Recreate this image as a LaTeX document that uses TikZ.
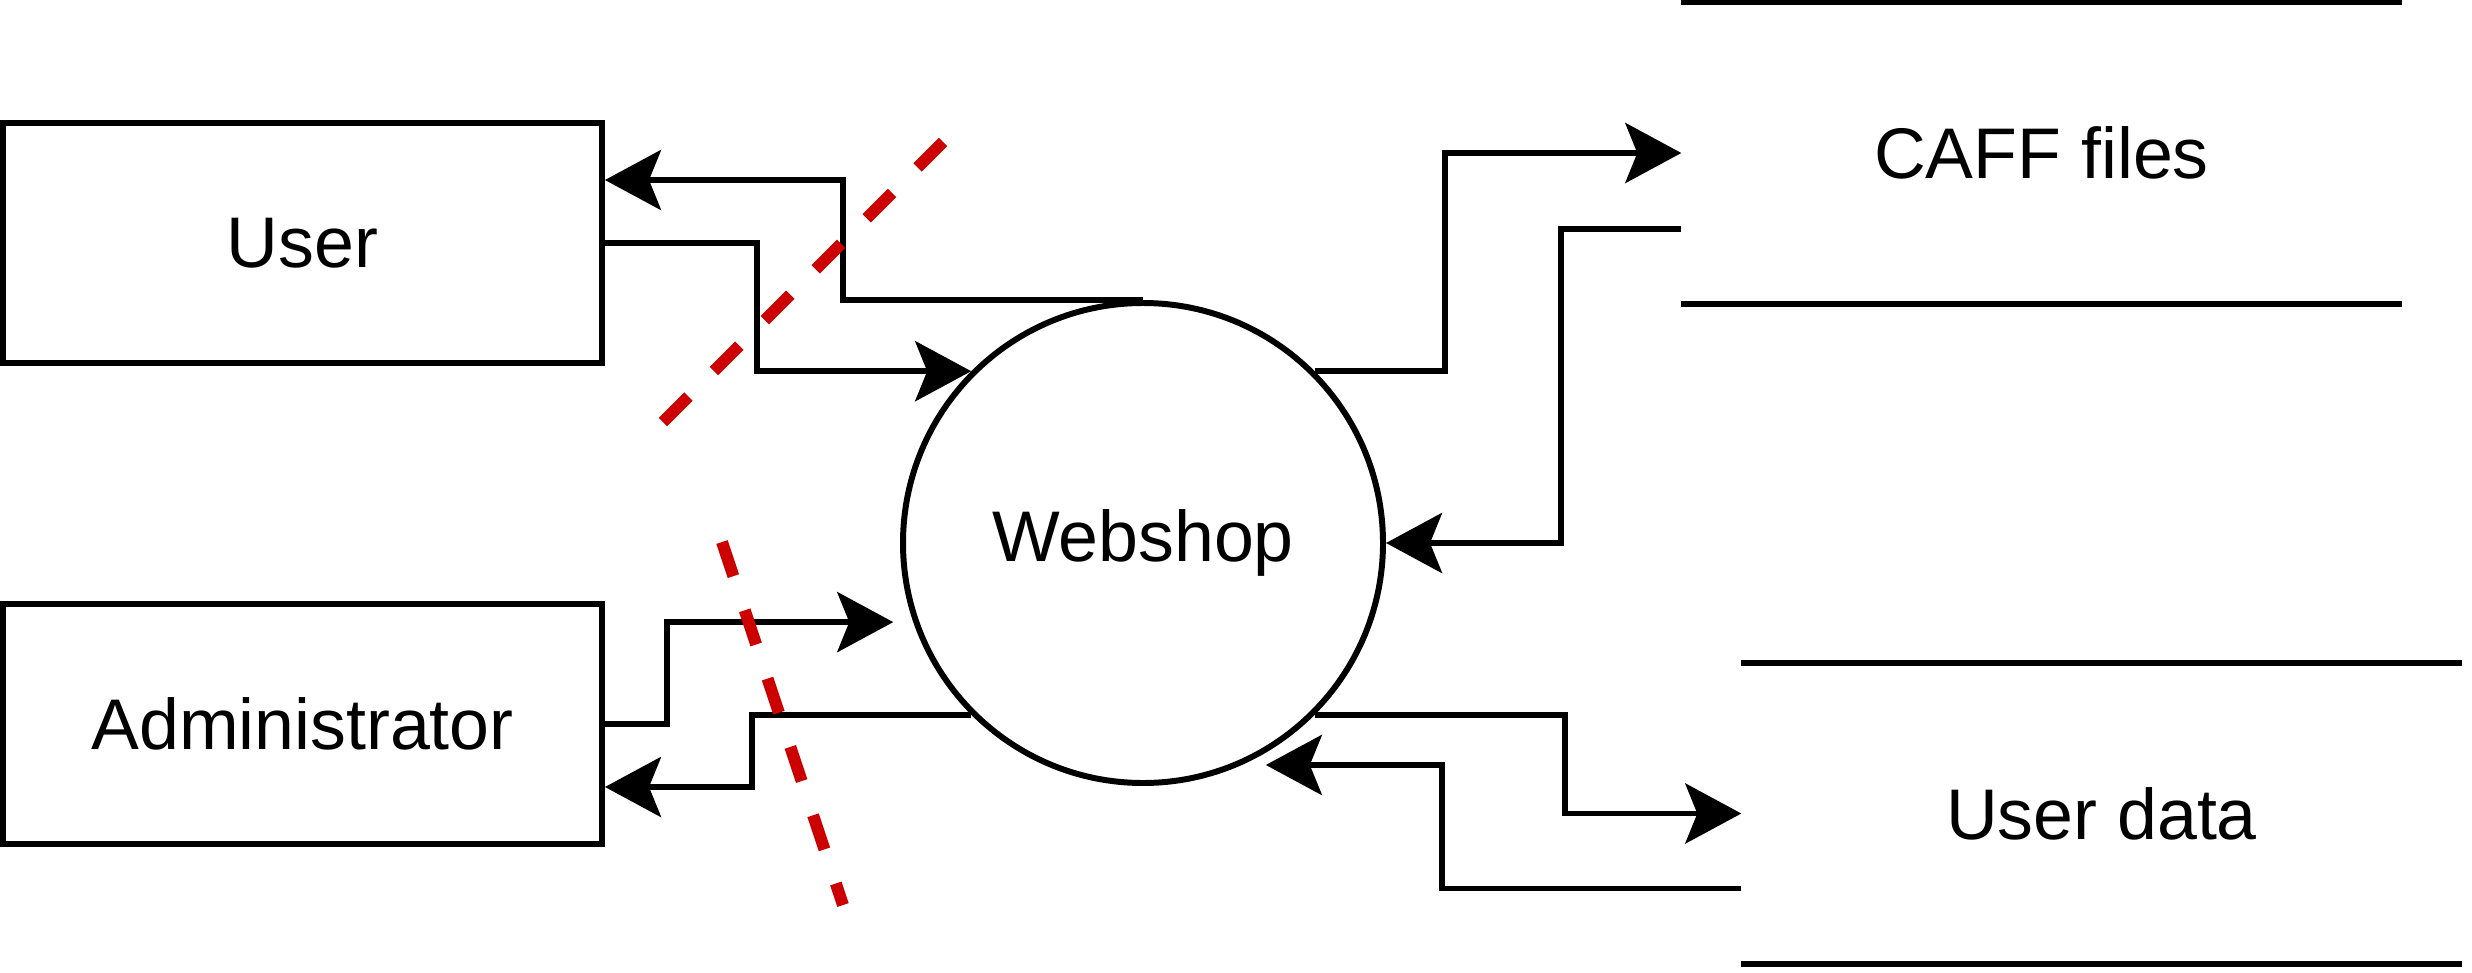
\documentclass[tikz,border=0pt]{standalone}
\usepackage{fontspec}
\setmainfont{Liberation Sans}
\usetikzlibrary{arrows.meta}
\definecolor{boundaryred}{HTML}{CC0000}

\begin{document}
\begin{tikzpicture}[x=0.1mm, y=-0.1mm,
                    every node/.style={font=\fontsize{20.4}{24}\selectfont},
                    entity/.style={draw, line width=1.7pt, minimum width=59.9mm, minimum height=24mm},
                    process/.style={draw, circle, line width=1.7pt, minimum size=48mm},
                    store/.style={minimum width=71.9mm, minimum height=30mm},
                    storeline/.style={line width=1.7pt},
                    flow/.style={line width=1.7pt, -{Stealth[length=5.6mm, width=6mm, inset=1.2mm]}},
                    boundary/.style={line width=3.4pt, color=boundaryred, dash pattern=on 3.6mm off 3.6mm}]
    \useasboundingbox (0,0) rectangle (2472,972);
    \node[entity] (user) at (302.5,243) {User};
    \node[entity] (admin) at (302.5,724) {Administrator};
    \node[process] (web) at (1143,543) {Webshop};
    \node[store] (caff) at (2041.5,153) {CAFF files};
    \node[store] (data) at (2101.5,813.5) {User data};
    \draw[storeline] (caff.north west) -- (caff.north east)
                     (caff.south west) -- (caff.south east)
                     (data.north west) -- (data.north east)
                     (data.south west) -- (data.south east);
    \draw[flow] (web.north) -- ++(-300,0) |- ([yshift=-6mm]user.north east);
    \draw[flow] (user.east) -- ++(152,0) |- (web.135);
    \draw[flow] (web.45) -- ++(130,0) |- (caff.west);
    \draw[flow] ([yshift=-7.6mm]caff.west) -- ++(-120,0) |- (web.east);
    \draw[flow, shorten >=2mm] (admin.east) -- ++(62,0) |- (web.199);
    \draw[flow] (web.225) -- ++(-219,0) |- ([yshift=6mm]admin.south east);
    \draw[flow] (web.-45) -- ++(250,0) |- (data.west);
    \draw[flow, shorten >=2.4mm] ([yshift=-7.5mm]data.west) -- ++(-299,0) |- (web.-66);
    \draw[boundary] (943,142) -- (662,423);
    \draw[boundary] (722,542) -- (843,905);
\end{tikzpicture}
\end{document}
